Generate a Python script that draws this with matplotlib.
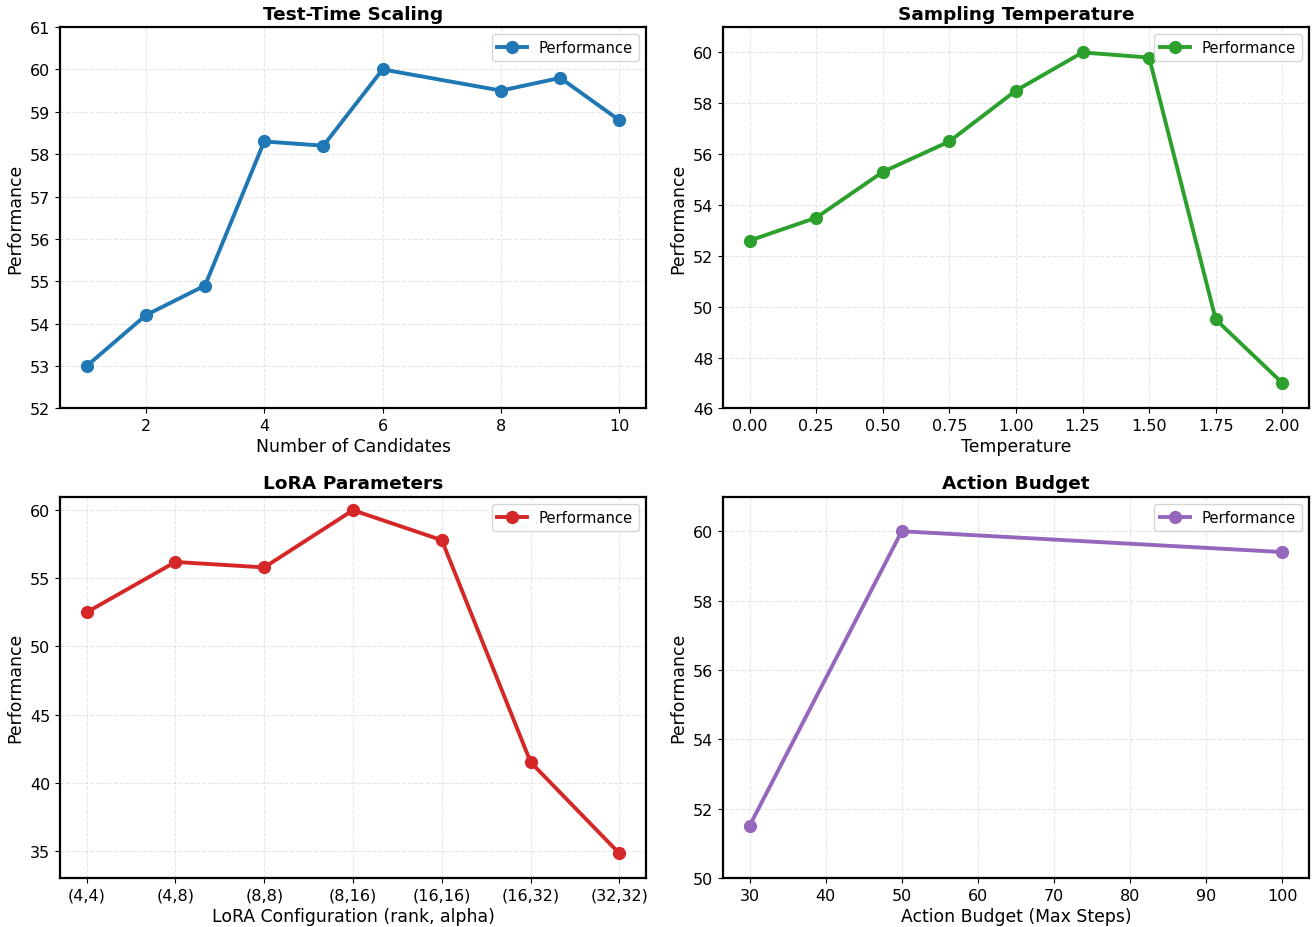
import matplotlib
matplotlib.use('Agg')
import matplotlib.pyplot as plt

# Panel data
candidates = [1, 2, 3, 4, 5, 6, 8, 9, 10]
candidates_perf = [53.0, 54.2, 54.9, 58.3, 58.2, 60.0, 59.5, 59.8, 58.8]

temperatures = [0.0, 0.25, 0.5, 0.75, 1.0, 1.25, 1.5, 1.75, 2.0]
temperature_perf = [52.6, 53.5, 55.3, 56.5, 58.5, 60.0, 59.8, 49.5, 47.0]

lora_labels = ['(4,4)', '(4,8)', '(8,8)', '(8,16)', '(16,16)', '(16,32)', '(32,32)']
lora_perf = [52.5, 56.2, 55.8, 60.0, 57.8, 41.5, 34.8]

budgets = [30, 50, 100]
budget_perf = [51.5, 60.0, 59.4]

plt.rcParams['font.family'] = 'DejaVu Sans'

fig, axes = plt.subplots(2, 2, figsize=(13.12, 9.28), dpi=100)
fig.subplots_adjust(left=0.0457, right=0.9977, top=0.9698, bottom=0.0528,
                    wspace=0.131, hspace=0.231)


def style_panel(ax, title, xlabel):
    ax.set_title(title, fontsize=13.3, fontweight='bold')
    ax.set_xlabel(xlabel, fontsize=12.4, labelpad=3)
    ax.set_ylabel('Performance', fontsize=12.4)
    ax.tick_params(labelsize=11.5)
    ax.grid(True, linestyle='--', alpha=0.3)
    for sp in ax.spines.values():
        sp.set_linewidth(1.6)
    ax.legend(loc='upper right', fontsize=10.6)


line_kw = dict(marker='o', linewidth=2.8, markersize=8.5, label='Performance')

ax = axes[0, 0]
ax.plot(candidates, candidates_perf, color='#1f77b4', **line_kw)
ax.set_ylim(52, 61)
style_panel(ax, 'Test-Time Scaling', 'Number of Candidates')

ax = axes[0, 1]
ax.plot(temperatures, temperature_perf, color='#2ca02c', **line_kw)
ax.set_ylim(46, 61)
ax.set_xticks(temperatures)
style_panel(ax, 'Sampling Temperature', 'Temperature')

ax = axes[1, 0]
lora_x = list(range(len(lora_labels)))
ax.plot(lora_x, lora_perf, color='#d62728', **line_kw)
ax.set_xticks(lora_x)
ax.set_xticklabels(lora_labels)
ax.set_ylim(33, 61)
style_panel(ax, 'LoRA Parameters', 'LoRA Configuration (rank, alpha)')

ax = axes[1, 1]
ax.plot(budgets, budget_perf, color='#9467bd', **line_kw)
ax.set_ylim(50, 61)
style_panel(ax, 'Action Budget', 'Action Budget (Max Steps)')

plt.savefig('out.png', dpi=100)
